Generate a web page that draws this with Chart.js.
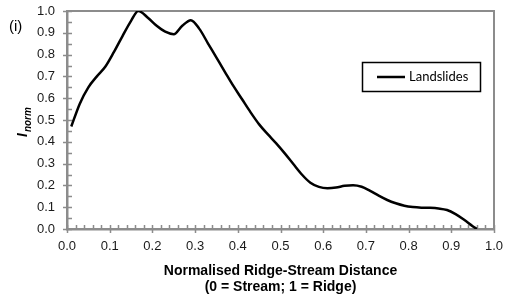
<!DOCTYPE html>
<html>
<head>
<meta charset="utf-8">
<script src="https://cdn.jsdelivr.net/npm/chart.js@4.4.0/dist/chart.umd.min.js"></script>
<style>
  html, body { margin: 0; padding: 0; background: #fff; }
  #wrap { width: 506px; height: 294px; }
</style>
</head>
<body>
<div id="wrap"><canvas id="chart" width="506" height="294"></canvas></div>
<script>
(function () {
    "use strict";

    // Normalised ridge-stream distance (0 = stream, 1 = ridge)
    var distance = [0.01, 0.03, 0.05, 0.07, 0.09, 0.11, 0.13, 0.15, 0.167, 0.19,
                    0.21, 0.23, 0.25, 0.27, 0.29, 0.31, 0.33, 0.35, 0.37, 0.39,
                    0.41, 0.43, 0.45, 0.47, 0.49, 0.51, 0.53, 0.55, 0.57, 0.59,
                    0.61, 0.63, 0.65, 0.67, 0.69, 0.71, 0.73, 0.75, 0.77, 0.79,
                    0.81, 0.83, 0.85, 0.87, 0.89, 0.91, 0.93, 0.95, 0.96];
    // Normalised landslide intensity
    var landslides = [0.47, 0.575, 0.65, 0.70, 0.745, 0.812, 0.885, 0.955, 1.00, 0.968,
                      0.932, 0.905, 0.893, 0.932, 0.958, 0.918, 0.852, 0.786, 0.72, 0.655,
                      0.595, 0.535, 0.48, 0.435, 0.393, 0.347, 0.298, 0.25, 0.212, 0.193,
                      0.187, 0.19, 0.198, 0.201, 0.194, 0.175, 0.153, 0.133, 0.118, 0.107,
                      0.101, 0.098, 0.097, 0.094, 0.087, 0.068, 0.042, 0.013, 0.0];

    var seriesLabel = 'Landslides';
    var xTitle = ['Normalised Ridge-Stream Distance', '(0 = Stream; 1 = Ridge)'];
    var panelLabel = '(i)';

    var axisGrey = '#8c8c8c';
    var points = distance.map(function (d, i) { return { x: d, y: landslides[i] }; });

    // Excel-style tick marks, top/right frame, legend and extra labels
    var decorations = {
        id: 'decorations',
        beforeDatasetsDraw: function (chart) {
            var ctx = chart.ctx, a = chart.chartArea;
            var xs = chart.scales.x, ys = chart.scales.y;
            ctx.save();
            ctx.strokeStyle = axisGrey;
            ctx.lineWidth = 2;
            ctx.beginPath();
            ctx.moveTo(a.left, a.top);
            ctx.lineTo(a.right, a.top);
            ctx.lineTo(a.right, a.bottom);
            ctx.stroke();

            ctx.lineWidth = 1.5;
            ctx.beginPath();
            var i, p;
            for (i = 0; i <= 50; i++) {
                p = Math.round(xs.getPixelForValue(i * 0.02)) + 0.5;
                if (i % 5 === 0) {
                    ctx.moveTo(p, a.bottom - 4);
                    ctx.lineTo(p, a.bottom + 4);
                } else {
                    ctx.moveTo(p, a.bottom - 4);
                    ctx.lineTo(p, a.bottom);
                }
            }
            for (i = 0; i <= 20; i++) {
                p = Math.round(ys.getPixelForValue(i * 0.05)) + 0.5;
                if (i % 2 === 0) {
                    ctx.moveTo(a.left - 4, p);
                    ctx.lineTo(a.left + 5, p);
                } else {
                    ctx.moveTo(a.left, p);
                    ctx.lineTo(a.left + 5, p);
                }
            }
            ctx.stroke();
            ctx.restore();
        },
        afterDraw: function (chart) {
            var ctx = chart.ctx, a = chart.chartArea;
            ctx.save();

            // legend box
            var bx = a.right - 132, by = a.top + 51, bw = 118, bh = 29;
            ctx.strokeStyle = '#000';
            ctx.lineWidth = 1.5;
            ctx.strokeRect(bx + 0.5, by + 0.5, bw, bh);
            ctx.lineWidth = 2.5;
            ctx.beginPath();
            ctx.moveTo(bx + 15, by + 15);
            ctx.lineTo(bx + 43, by + 15);
            ctx.stroke();
            ctx.fillStyle = '#000';
            ctx.font = '13px Lato';
            ctx.textBaseline = 'middle';
            ctx.textAlign = 'left';
            ctx.fillText(seriesLabel, bx + 47, by + 15);

            // panel label
            ctx.font = '15px "Liberation Sans"';
            ctx.fillText(panelLabel, 9, 27);

            // y-axis title: I with subscript "norm"
            ctx.translate(27, 137);
            ctx.rotate(-Math.PI / 2);
            ctx.textBaseline = 'alphabetic';
            ctx.font = 'italic bold 14px "Liberation Sans"';
            ctx.fillText('I', 0, 0);
            var w = ctx.measureText('I').width;
            ctx.font = 'italic bold 10px "Liberation Sans"';
            ctx.fillText('norm', w + 1, 4);
            ctx.restore();
        }
    };

    new Chart(document.getElementById('chart'), {
        type: 'line',
        data: {
            datasets: [{
                label: seriesLabel,
                data: points,
                borderColor: '#000',
                borderWidth: 2.5,
                pointRadius: 0,
                cubicInterpolationMode: 'monotone',
                fill: false
            }]
        },
        options: {
            responsive: false,
            animation: false,
            devicePixelRatio: 1,
            layout: { padding: { left: 0, right: 12, top: 11, bottom: 0 } },
            plugins: {
                legend: { display: false },
                tooltip: { enabled: false }
            },
            scales: {
                x: {
                    type: 'linear',
                    min: 0,
                    max: 1,
                    grid: { display: false, drawTicks: false },
                    border: { display: true, color: axisGrey, width: 2.5 },
                    ticks: {
                        stepSize: 0.1,
                        padding: 10,
                        color: '#1a1a1a',
                        font: { family: '"Liberation Sans", Arial', size: 13 },
                        callback: function (v) { return v.toFixed(1); }
                    },
                    title: {
                        display: true,
                        text: xTitle,
                        color: '#000',
                        padding: { top: 0, bottom: -2 },
                        font: { family: '"Liberation Sans", Arial', size: 14, weight: 'bold', lineHeight: 1.2 }
                    },
                    afterFit: function (s) {
                        s.height = 65;
                        s.paddingLeft = 0;
                        s.paddingRight = 0;
                    }
                },
                y: {
                    min: 0,
                    max: 1,
                    grid: { display: false, drawTicks: false },
                    border: { display: true, color: axisGrey, width: 2.5 },
                    ticks: {
                        stepSize: 0.1,
                        padding: 12,
                        color: '#1a1a1a',
                        font: { family: '"Liberation Sans", Arial', size: 13 },
                        callback: function (v) { return v.toFixed(1); }
                    },
                    afterFit: function (s) {
                        s.width = 67;
                        s.paddingTop = 0;
                        s.paddingBottom = 0;
                    }
                }
            }
        },
        plugins: [decorations]
    });
})();
</script>
</body>
</html>
